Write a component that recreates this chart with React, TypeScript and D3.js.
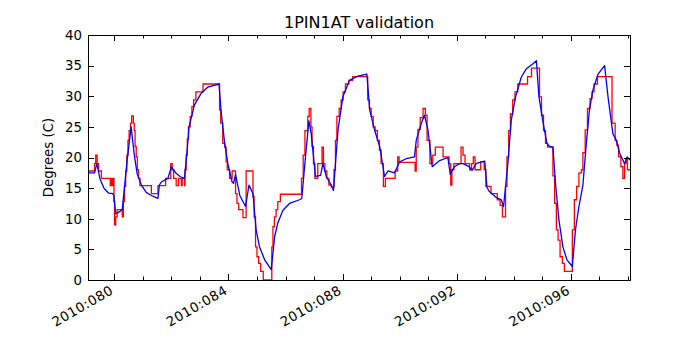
import { useRef, useEffect } from 'react';
import * as d3 from 'd3';

// measured temperature (red, stepped) : [day of year, degC]
const measured: [number, number][] = [
  [79.08, 17.8], [79.31, 19.0], [79.35, 20.4], [79.40, 19.0], [79.45, 17.8], [79.55, 16.6],
  [79.86, 15.4], [79.89, 16.6], [79.92, 15.4], [79.95, 16.6], [79.99, 12.8], [80.01, 9.0],
  [80.05, 10.3], [80.10, 11.5], [80.28, 10.3], [80.32, 12.8], [80.36, 15.3], [80.40, 17.8],
  [80.44, 20.4], [80.48, 22.8], [80.52, 24.4], [80.57, 25.6], [80.61, 26.8], [80.67, 25.6],
  [80.70, 24.4], [80.73, 21.8], [80.77, 20.1], [80.81, 18.0], [80.85, 16.6], [80.90, 15.4],
  [81.30, 14.1], [81.53, 15.4], [81.80, 16.6], [81.98, 19.0], [82.03, 18.0], [82.08, 16.6],
  [82.17, 15.4], [82.25, 16.6], [82.35, 15.4], [82.38, 16.6], [82.46, 15.4], [82.48, 18.0],
  [82.52, 20.4], [82.56, 23.0], [82.60, 25.0], [82.66, 26.7], [82.72, 28.3], [82.78, 29.4],
  [82.86, 30.7], [83.11, 32.0], [83.69, 27.8], [83.73, 25.6], [83.80, 22.3], [83.87, 21.7],
  [83.92, 19.3], [83.96, 18.0], [84.04, 16.6], [84.13, 17.8], [84.25, 14.1], [84.30, 12.5],
  [84.36, 11.5], [84.51, 10.2], [84.62, 17.8], [84.86, 13.6], [84.90, 10.3], [84.95, 5.4],
  [85.00, 3.8], [85.06, 2.7], [85.13, 1.4], [85.22, 0], [85.52, 5.4], [85.56, 8.7],
  [85.61, 10.3], [85.67, 11.5], [85.73, 12.8], [85.82, 14.0], [86.56, 16.6], [86.62, 20.4],
  [86.68, 24.4], [86.78, 26.7], [86.83, 28.0], [86.89, 25.0], [86.93, 21.8], [86.98, 19.0],
  [87.03, 16.6], [87.13, 19.0], [87.28, 21.7], [87.33, 19.0], [87.38, 17.8], [87.45, 16.6],
  [87.52, 15.5], [87.60, 15.2], [87.70, 18.0], [87.75, 22.8], [87.80, 26.7], [87.88, 28.0],
  [87.95, 29.4], [88.02, 30.7], [88.10, 32.0], [88.22, 32.6], [88.35, 33.2], [88.88, 29.4],
  [88.94, 28.0], [89.00, 26.7], [89.07, 25.0], [89.14, 24.4], [89.22, 22.8], [89.29, 21.2],
  [89.35, 19.0], [89.43, 15.3], [89.50, 16.6], [89.84, 17.8], [89.93, 20.1], [89.98, 19.2],
  [90.54, 17.8], [90.58, 21.7], [90.64, 24.6], [90.72, 26.5], [90.82, 28.0], [90.90, 26.9],
  [90.96, 22.8], [91.06, 19.0], [91.16, 20.4], [91.25, 21.7], [91.52, 20.1], [91.73, 19.0],
  [91.79, 15.5], [91.83, 18.0], [91.90, 19.0], [92.15, 21.7], [92.22, 20.4], [92.29, 19.0],
  [92.45, 18.0], [92.52, 19.0], [92.58, 20.1], [92.64, 18.0], [92.84, 19.3], [92.96, 18.0],
  [93.02, 15.3], [93.20, 14.1], [93.42, 13.1], [93.52, 12.2], [93.60, 10.3], [93.71, 15.3],
  [93.76, 20.1], [93.82, 24.4], [93.88, 27.1], [93.96, 29.4], [94.04, 30.7], [94.14, 32.0],
  [94.48, 33.2], [94.62, 34.6], [94.90, 29.9], [94.97, 26.9], [95.04, 24.4], [95.11, 22.3],
  [95.18, 21.7], [95.37, 17.0], [95.43, 12.5], [95.49, 8.2], [95.55, 6.5], [95.62, 3.8],
  [95.70, 2.7], [95.77, 1.4], [96.05, 8.2], [96.12, 13.1], [96.20, 15.3], [96.28, 17.5],
  [96.37, 18.0], [96.42, 20.8], [96.50, 24.5], [96.58, 28.0], [96.67, 29.6], [96.74, 30.7],
  [96.81, 32.0], [96.93, 33.2], [97.44, 25.6], [97.55, 22.8], [97.61, 22.0], [97.67, 20.1],
  [97.75, 18.5], [97.82, 16.6], [97.88, 19.0], [97.93, 19.7], [97.98, 18.0], [98.07, 18.0],
];

// model prediction (blue)
const model: [number, number][] = [
  [79.08, 17.5], [79.31, 17.5], [79.39, 19.0], [79.50, 16.5], [79.65, 14.9], [79.80, 14.2],
  [79.95, 14.1], [79.99, 13.7], [80.05, 10.8], [80.20, 11.2], [80.28, 11.5], [80.45, 19.5],
  [80.59, 25.0], [80.70, 20.5], [80.80, 17.4], [80.95, 15.5], [81.12, 14.3], [81.30, 13.8],
  [81.49, 13.4], [81.53, 13.3], [81.58, 15.5], [81.65, 16.0], [81.88, 16.6], [82.00, 18.5],
  [82.15, 17.5], [82.30, 16.9], [82.46, 16.6], [82.55, 21.0], [82.62, 25.0], [82.81, 28.6],
  [83.05, 30.5], [83.28, 31.5], [83.67, 32.0], [83.75, 27.2], [83.87, 22.3], [83.98, 19.0],
  [84.13, 16.0], [84.18, 15.8], [84.25, 17.2], [84.40, 13.8], [84.60, 12.0], [84.72, 15.5],
  [84.80, 14.7], [84.86, 14.1], [84.97, 8.2], [85.09, 5.4], [85.27, 3.3], [85.50, 1.7],
  [85.62, 7.1], [85.73, 9.3], [85.91, 11.4], [86.14, 12.5], [86.49, 13.1], [86.57, 13.3],
  [86.70, 20.1], [86.82, 26.0], [86.90, 23.9], [87.05, 16.9], [87.23, 17.1], [87.31, 19.0],
  [87.43, 16.9], [87.60, 15.5], [87.68, 14.6], [87.84, 24.5], [88.01, 29.9], [88.24, 32.6],
  [88.54, 33.3], [88.85, 33.6], [88.95, 27.8], [89.12, 24.5], [89.30, 21.8], [89.47, 16.9],
  [89.59, 17.8], [89.82, 17.5], [90.00, 19.3], [90.23, 19.8], [90.52, 20.1], [90.58, 22.8],
  [90.76, 25.6], [90.87, 26.9], [90.99, 24.5], [91.14, 18.5], [91.40, 19.5], [91.69, 20.0],
  [91.77, 17.3], [91.92, 18.5], [92.10, 19.0], [92.22, 19.0], [92.43, 18.5], [92.54, 17.9],
  [92.68, 19.0], [92.86, 19.3], [92.98, 19.4], [93.06, 15.1], [93.15, 14.4], [93.38, 13.5],
  [93.56, 13.1], [93.64, 12.0], [93.79, 19.0], [93.91, 26.1], [94.06, 29.9], [94.26, 33.1],
  [94.44, 34.5], [94.67, 35.3], [94.79, 35.8], [94.88, 29.9], [95.02, 25.8], [95.16, 22.3],
  [95.25, 21.8], [95.37, 21.7], [95.46, 15.8], [95.58, 9.8], [95.72, 5.4], [95.86, 3.3],
  [96.05, 2.2], [96.16, 8.2], [96.28, 12.0], [96.42, 15.5], [96.54, 22.3], [96.65, 27.8],
  [96.77, 31.0], [96.95, 33.6], [97.18, 35.0], [97.30, 29.9], [97.47, 23.9], [97.59, 22.8],
  [97.71, 20.7], [97.88, 19.0], [97.97, 20.1], [98.07, 19.6],
];

const majorDays = [80, 84, 88, 92, 96];
const yTicks = [0, 5, 10, 15, 20, 25, 30, 35, 40];
const dayRange = [79.08, 98.07];
const chartTitle = '1PIN1AT validation';
const yTitle = 'Degrees (C)';

export default function App() {
  const svgRef = useRef<SVGSVGElement>(null);

  useEffect(() => {
    const W = 700, H = 350;
    const m = { top: 35, left: 88, right: 70, bottom: 70 };
    const w = W - m.left - m.right;
    const h = H - m.top - m.bottom;
    const font = 'DejaVu Sans, sans-serif';
    const fs = 13.33;

    const svg = d3.select(svgRef.current).attr('width', W).attr('height', H).html('');

    const x = d3.scaleLinear().domain(dayRange).range([0, w]);
    const y = d3.scaleLinear().domain([0, 40]).range([h, 0]);

    const g = svg.append('g').attr('transform', `translate(${m.left},${m.top})`);

    const clip = svg.append('defs').append('clipPath').attr('id', 'plot-clip');
    clip.append('rect').attr('width', w).attr('height', h);

    const minorDays = d3.range(Math.ceil(dayRange[0]), Math.floor(dayRange[1]) + 1);
    const fmt = (d: number) => `2010:${String(d).padStart(3, '0')}`;

    // lines
    const redLine = d3.line<[number, number]>()
      .x(d => x(d[0])).y(d => y(d[1]))
      .curve(d3.curveStepAfter);
    const blueLine = d3.line<[number, number]>()
      .x(d => x(d[0])).y(d => y(d[1]));

    const plot = g.append('g').attr('clip-path', 'url(#plot-clip)');
    plot.append('path').datum(measured)
      .attr('d', redLine).attr('fill', 'none').attr('stroke', '#ff0000').attr('stroke-width', 1.3);
    plot.append('path').datum(model)
      .attr('d', blueLine).attr('fill', 'none').attr('stroke', '#0000ff').attr('stroke-width', 1.3)
      .attr('stroke-linejoin', 'round');

    // ticks, inward on all four sides
    const tk = g.append('g').attr('stroke', '#000').attr('stroke-width', 1);
    minorDays.forEach(d => {
      const len = majorDays.includes(d) ? 6 : 3.5;
      const xx = Math.round(x(d)) + 0.5;
      tk.append('line').attr('x1', xx).attr('x2', xx).attr('y1', h).attr('y2', h - len);
      tk.append('line').attr('x1', xx).attr('x2', xx).attr('y1', 0).attr('y2', len);
    });
    yTicks.forEach(v => {
      const yy = Math.round(y(v)) + 0.5;
      tk.append('line').attr('x1', 0).attr('x2', 6).attr('y1', yy).attr('y2', yy);
      tk.append('line').attr('x1', w).attr('x2', w - 6).attr('y1', yy).attr('y2', yy);
    });

    // frame
    g.append('rect').attr('x', 0.5).attr('y', 0.5).attr('width', w).attr('height', h)
      .attr('fill', 'none').attr('stroke', '#000').attr('stroke-width', 1);

    // y tick labels
    g.selectAll('.ylab').data(yTicks).enter().append('text')
      .attr('x', -6).attr('y', d => y(d)).attr('dy', '0.36em')
      .attr('text-anchor', 'end').attr('font-family', font).attr('font-size', fs)
      .text(d => d);

    // x tick labels, rotated
    g.selectAll('.xlab').data(majorDays).enter().append('text')
      .attr('transform', d => `translate(${x(d)},${h + 13}) rotate(-30)`)
      .attr('text-anchor', 'end').attr('font-family', font).attr('font-size', fs)
      .attr('letter-spacing', 0.5)
      .text(fmt);

    // titles
    svg.append('text').attr('x', m.left + w / 2).attr('y', 28)
      .attr('text-anchor', 'middle').attr('font-family', font).attr('font-size', 16)
      .text(chartTitle);
    svg.append('text')
      .attr('transform', `translate(53,${m.top + h / 2}) rotate(-90)`)
      .attr('text-anchor', 'middle').attr('font-family', font).attr('font-size', fs)
      .text(yTitle);
  }, []);

  return (
    <div style={{ position: 'absolute', left: 0, top: 0, background: '#fff' }}>
      <svg ref={svgRef}></svg>
    </div>
  );
}
